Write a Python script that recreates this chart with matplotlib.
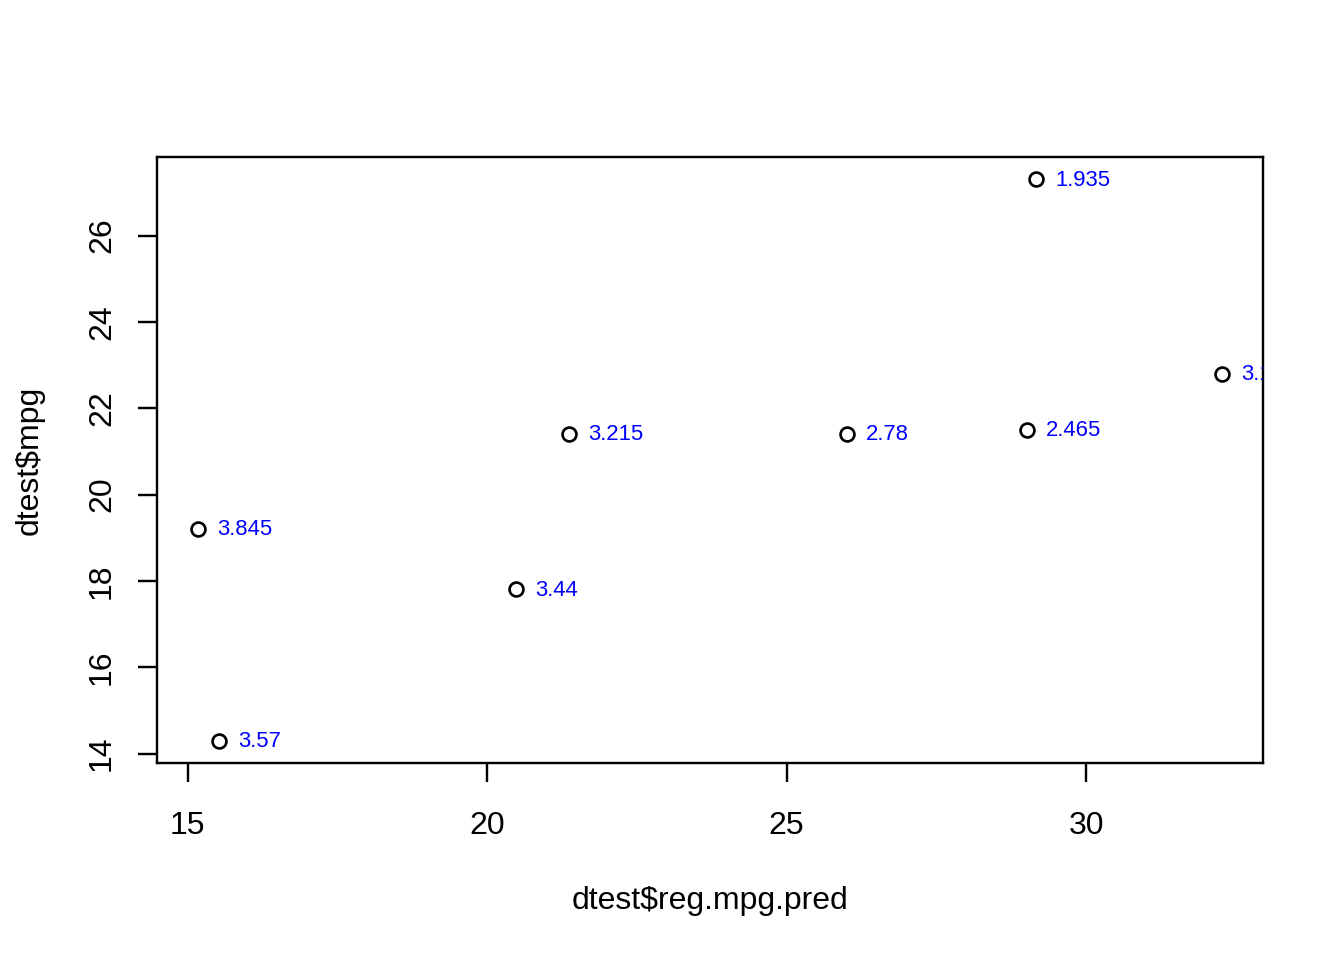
import matplotlib
matplotlib.use("Agg")
import matplotlib.pyplot as plt

plt.rcParams['font.family'] = ['Liberation Sans', 'DejaVu Sans']

# predicted mpg vs actual mpg, labelled by weight
pred_mpg = [15.17, 15.52, 20.48, 21.36, 26.01, 29.01, 29.16, 32.27]
mpg = [19.2, 14.3, 17.8, 21.4, 21.4, 21.5, 27.3, 22.8]
wt_labels = ["3.845", "3.57", "3.44", "3.215", "2.78", "2.465", "1.935", "3.15"]

fig = plt.figure(figsize=(7, 5), dpi=192)
ax = fig.add_axes([157/1344, 1 - 763/960, (1263 - 157)/1344, (763 - 157)/960])

ax.plot(pred_mpg, mpg, linestyle="none", marker="o", markersize=5.2,
        markerfacecolor="none", markeredgecolor="black", markeredgewidth=1.0)

for x, y, s in zip(pred_mpg, mpg, wt_labels):
    ax.annotate(s, (x, y), xytext=(7.2, -0.3), textcoords="offset points",
                ha="left", va="center", color="blue", fontsize=8.3,
                annotation_clip=False, clip_on=True)

# R style 4% padding
xr = max(pred_mpg) - min(pred_mpg)
yr = max(mpg) - min(mpg)
ax.set_xlim(min(pred_mpg) - 0.04*xr, max(pred_mpg) + 0.04*xr)
ax.set_ylim(min(mpg) - 0.04*yr, max(mpg) + 0.04*yr)

ax.set_xticks([15, 20, 25, 30])
ax.set_yticks([14, 16, 18, 20, 22, 24, 26])
ax.tick_params(direction="out", length=7, width=0.9, labelsize=12, pad=11)
ax.tick_params(axis="y", labelrotation=90, pad=8)
for lab in ax.get_yticklabels():
    lab.set_va("center")
for sp in ax.spines.values():
    sp.set_linewidth(0.9)

ax.set_xlabel("dtest$reg.mpg.pred", fontsize=12, labelpad=17)
ax.set_ylabel("dtest$mpg", fontsize=12, labelpad=16)

fig.savefig("out.png", dpi=192)
